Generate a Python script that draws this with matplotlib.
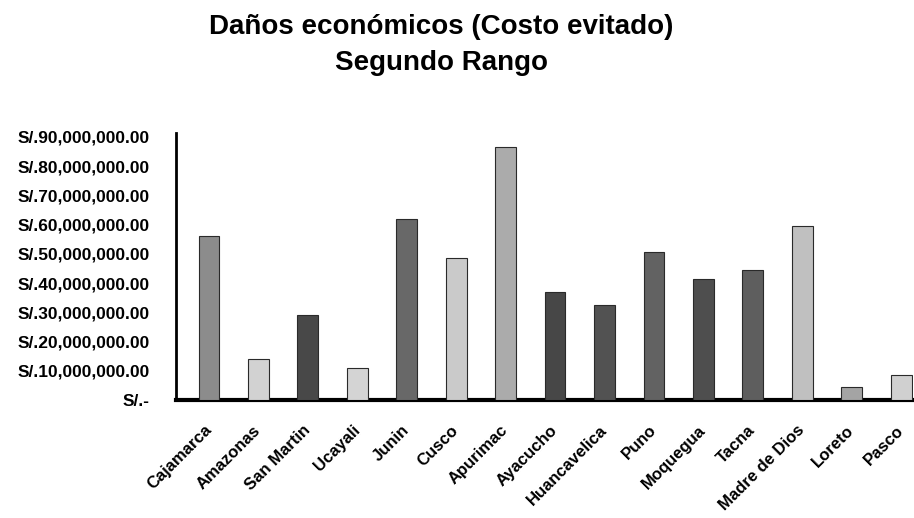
import matplotlib
matplotlib.use("Agg")
import matplotlib.pyplot as plt
from matplotlib.ticker import FuncFormatter

departamentos = ["Cajamarca", "Amazonas", "San Martin", "Ucayali", "Junin", "Cusco",
                 "Apurimac", "Ayacucho", "Huancavelica", "Puno", "Moquegua", "Tacna",
                 "Madre de Dios", "Loreto", "Pasco"]
costo_evitado = [56.0e6, 14.0e6, 29.0e6, 11.0e6, 62.0e6, 48.5e6,
                 86.5e6, 37.0e6, 32.5e6, 50.5e6, 41.5e6, 44.5e6,
                 59.5e6, 4.5e6, 8.5e6]
y_ticks = [0, 10e6, 20e6, 30e6, 40e6, 50e6, 60e6, 70e6, 80e6, 90e6]

bar_colors = ["#8c8c8c", "#d2d2d2", "#484848", "#d4d4d4", "#686868", "#cacaca",
              "#ababab", "#474747", "#525252", "#626262", "#4e4e4e", "#5e5e5e",
              "#c0c0c0", "#a4a4a4", "#d0d0d0"]

fig = plt.figure(figsize=(9.14, 5.18), dpi=100)
ax = fig.add_axes([176 / 914, (518 - 400) / 518, 1 - 176 / 914 - 0.001, (400 - 133) / 518])

x = range(len(departamentos))
bars = ax.bar(x, costo_evitado, width=0.42, color=bar_colors,
              edgecolor="#2a2a2a", linewidth=0.8, zorder=3)

ax.set_xlim(-0.667, 14.24)
ax.set_ylim(0, 91.3e6)

def fmt(v, pos):
    if v == 0:
        return "S/.-"
    return "S/.{:,.2f}".format(v)

ax.set_yticks(y_ticks)
ax.yaxis.set_major_formatter(FuncFormatter(fmt))
ax.set_xticks(list(x))
ax.set_xticklabels(departamentos, rotation=45, ha="right", va="center",
                   rotation_mode="anchor",
                   fontsize=12, fontweight="bold", family="Liberation Sans")
for lbl in ax.get_yticklabels():
    lbl.set_fontsize(12.5)
    lbl.set_fontweight("bold")
    lbl.set_family("Liberation Sans")

ax.tick_params(axis="both", length=0)
ax.tick_params(axis="y", pad=19)
ax.tick_params(axis="x", pad=20)

for s in ["top", "right"]:
    ax.spines[s].set_visible(False)
ax.spines["left"].set_linewidth(2)
ax.spines["bottom"].set_linewidth(3)
ax.spines["left"].set_color("black")
ax.spines["bottom"].set_color("black")

fig.text(0.483, 1 - 45 / 518, "Daños económicos (Costo evitado)\nSegundo Rango",
         ha="center", va="center", fontsize=20, fontweight="bold",
         family="Liberation Sans", linespacing=1.45)

fig.savefig("out.png", dpi=100)
